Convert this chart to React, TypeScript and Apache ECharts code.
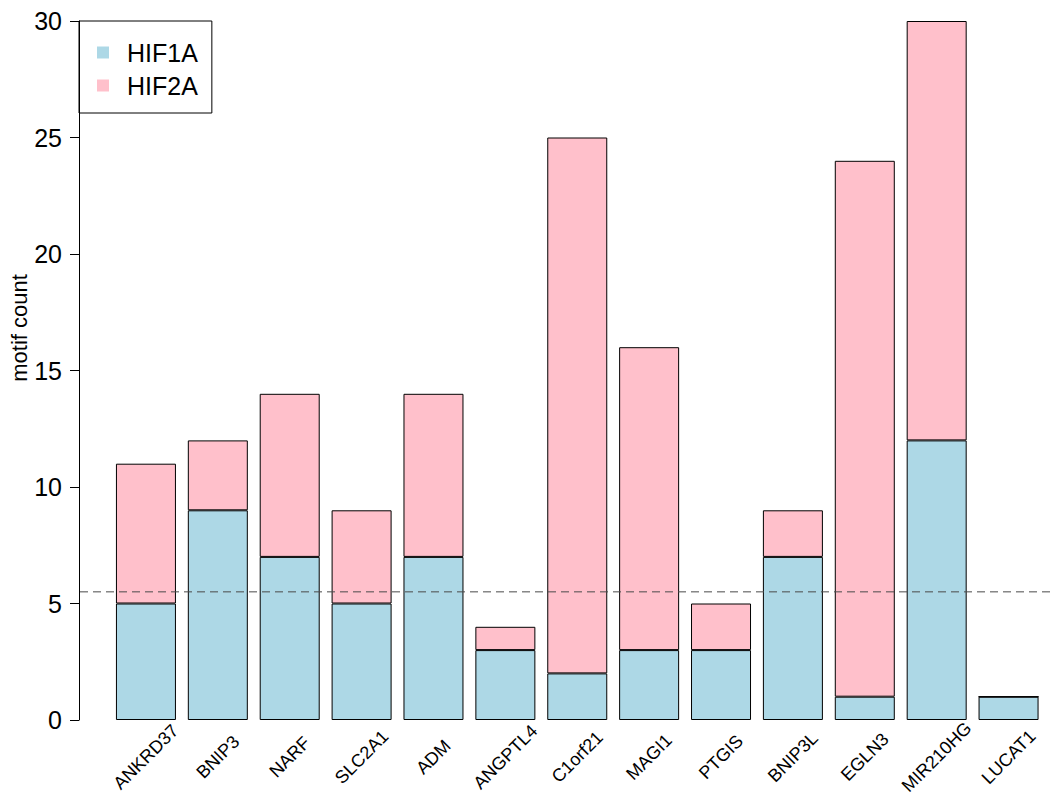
import React, { useEffect, useRef } from "react";
import * as echarts from "echarts";

const genes = [
  "ANKRD37", "BNIP3", "NARF", "SLC2A1", "ADM", "ANGPTL4", "C1orf21",
  "MAGI1", "PTGIS", "BNIP3L", "EGLN3", "MIR210HG", "LUCAT1",
];
const hif1a = [5, 9, 7, 5, 7, 3, 2, 3, 3, 7, 1, 12, 1];
const hif2a = [6, 3, 7, 4, 7, 1, 23, 13, 2, 2, 23, 18, 0];
const threshold = 5.5;
const yTicks = [0, 5, 10, 15, 20, 25, 30];

const FONT = "'Liberation Sans', Arial, Helvetica, sans-serif";

export default function App() {
  const ref = useRef<HTMLDivElement>(null);
  useEffect(() => {
    document.body.style.margin = "0";
    const chart = echarts.init(ref.current!, null, { renderer: "svg" });
    chart.setOption({
      animation: false,
      backgroundColor: "#ffffff",
      textStyle: { fontFamily: FONT },
      grid: [
        { left: 110, right: 5.5, top: 21, bottom: 81 },
        { left: 80, right: 0, top: 21, bottom: 81 },
      ],
      legend: {
        data: ["HIF1A", "HIF2A"],
        orient: "vertical",
        left: 79,
        top: 21,
        borderColor: "#000",
        borderWidth: 1,
        borderRadius: 0,
        padding: [19, 14, 15, 18],
        itemGap: 8,
        itemWidth: 12,
        itemHeight: 12,
        icon: "rect",
        itemStyle: { borderWidth: 0 },
        textStyle: { fontSize: 25, color: "#000", fontFamily: FONT, padding: [0, 0, 0, 13] },
      },
      xAxis: [
        {
          type: "category",
          gridIndex: 0,
          data: genes,
          axisLine: { show: false },
          axisTick: { show: false },
          axisLabel: {
            rotate: 45,
            align: "center",
            verticalAlign: "middle",
            margin: 37,
            fontSize: 18,
            color: "#000",
            fontFamily: FONT,
            interval: 0,
          },
        },
        { type: "value", gridIndex: 1, min: 0, max: 1, show: false },
      ],
      yAxis: [
        {
          type: "value",
          gridIndex: 0,
          min: 0,
          max: 30,
          interval: 5,
          offset: 31,
          axisLine: { show: true, lineStyle: { color: "#000", width: 1 } },
          axisTick: { show: true, length: 9, lineStyle: { color: "#000" } },
          axisLabel: { fontSize: 25, color: "#000", margin: 17, fontFamily: FONT,
            customValues: yTicks },
          splitLine: { show: false },
        },
        { type: "value", gridIndex: 1, min: 0, max: 30, show: false },
      ],
      graphic: [
        {
          type: "text",
          x: 19.5,
          y: 328,
          rotation: Math.PI / 2,
          style: {
            text: "motif count",
            fontSize: 22,
            fontFamily: FONT,
            fill: "#000",
            align: "center",
            verticalAlign: "middle",
          },
        },
      ],
      series: [
        {
          name: "HIF1A",
          type: "bar",
          stack: "total",
          data: hif1a,
          barWidth: 60,
          itemStyle: { color: "#ADD8E6", borderColor: "#000", borderWidth: 1 },
        },
        {
          name: "HIF2A",
          type: "bar",
          stack: "total",
          data: hif2a,
          barWidth: 60,
          itemStyle: { color: "#FFC0CB", borderColor: "#000", borderWidth: 1 },
        },
        {
          name: "threshold",
          type: "line",
          xAxisIndex: 1,
          yAxisIndex: 1,
          data: [[0, threshold], [1, threshold]],
          symbol: "none",
          silent: true,
          z: 5,
          lineStyle: { type: [8, 5], color: "#4a4a4a", width: 1 },
        },
      ],
    });
    return () => chart.dispose();
  }, []);
  return <div ref={ref} style={{ width: 1050, height: 801 }} />;
}
